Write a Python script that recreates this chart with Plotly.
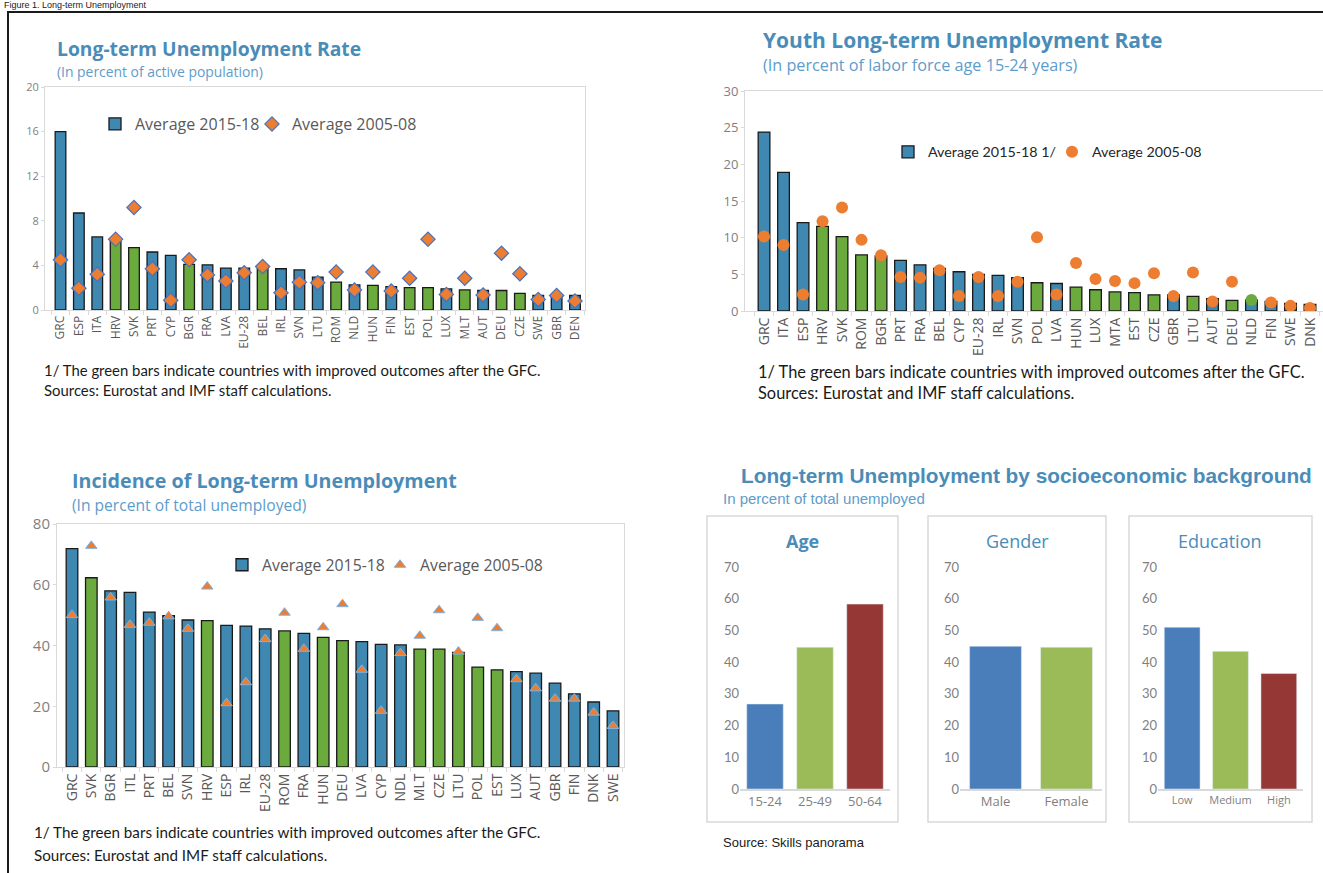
import plotly.graph_objects as go

W, H = 1323, 873
OFF = 0  # page margin is removed below, so pixel positions map 1:1

# ---------------- Data ----------------
# Panel 1: Long-term Unemployment Rate (percent of active population)
rate_countries = ["GRC", "ESP", "ITA", "HRV", "SVK", "PRT", "CYP", "BGR", "FRA", "LVA",
                  "EU-28", "BEL", "IRL", "SVN", "LTU", "ROM", "NLD", "HUN", "FIN", "EST",
                  "POL", "LUX", "MLT", "AUT", "DEU", "CZE", "SWE", "GBR", "DEN"]
rate_2015_18 = [16.0, 8.7, 6.55, 6.3, 5.6, 5.2, 4.9, 4.1, 4.05, 3.75,
                3.75, 3.8, 3.7, 3.6, 2.95, 2.5, 2.25, 2.2, 2.1, 2.0,
                2.0, 1.9, 1.8, 1.75, 1.75, 1.5, 1.3, 1.3, 1.3]
rate_2005_08 = [4.5, 1.95, 3.2, 6.35, 9.2, 3.7, 0.87, 4.5, 3.15, 2.6,
                3.35, 3.9, 1.55, 2.5, 2.45, 3.4, 1.8, 3.4, 1.7, 2.85,
                6.35, 1.4, 2.85, 1.35, 5.1, 3.25, 0.95, 1.3, 0.8]
rate_improved = [0, 0, 0, 1, 1, 0, 0, 1, 0, 0,
                 0, 1, 0, 0, 0, 1, 0, 1, 0, 1,
                 1, 0, 1, 0, 1, 1, 0, 0, 0]

# Panel 2: Youth Long-term Unemployment Rate (percent of labor force age 15-24)
youth_countries = ["GRC", "ITA", "ESP", "HRV", "SVK", "ROM", "BGR", "PRT", "FRA", "BEL",
                   "CYP", "EU-28", "IRL", "SVN", "POL", "LVA", "HUN", "LUX", "MTA", "EST",
                   "CZE", "GBR", "LTU", "AUT", "DEU", "NLD", "FIN", "SWE", "DNK"]
youth_2015_18 = [24.4, 18.9, 12.05, 11.55, 10.15, 7.65, 7.5, 6.9, 6.3, 5.8,
                 5.35, 5.0, 4.85, 4.55, 3.85, 3.75, 3.25, 2.9, 2.6, 2.5,
                 2.2, 2.2, 2.0, 1.7, 1.45, 1.5, 1.3, 1.05, 0.9]
youth_2005_08 = [10.15, 9.0, 2.25, 12.25, 14.1, 9.7, 7.6, 4.65, 4.55, 5.55,
                 2.05, 4.65, 2.05, 4.0, 10.05, 2.25, 6.55, 4.35, 4.1, 3.8,
                 5.15, 2.05, 5.25, 1.3, 4.0, 1.5, 1.15, 0.7, 0.4]
youth_improved = [0, 0, 0, 1, 1, 1, 1, 0, 0, 0,
                  0, 0, 0, 0, 1, 0, 1, 1, 1, 1,
                  1, 0, 1, 0, 1, 0, 0, 0, 0]
youth_dot_highlight = ["NLD"]

# Panel 3: Incidence of Long-term Unemployment (percent of total unemployed)
inc_countries = ["GRC", "SVK", "BGR", "ITL", "PRT", "BEL", "SVN", "HRV", "ESP", "IRL",
                 "EU-28", "ROM", "FRA", "HUN", "DEU", "LVA", "CYP", "NDL", "MLT", "CZE",
                 "LTU", "POL", "EST", "LUX", "AUT", "GBR", "FIN", "DNK", "SWE"]
inc_2015_18 = [71.9, 62.3, 58.0, 57.5, 51.0, 49.8, 48.4, 48.2, 46.6, 46.4,
               45.5, 44.8, 44.0, 42.7, 41.6, 41.3, 40.4, 40.2, 38.8, 38.8,
               37.7, 32.9, 32.0, 31.4, 30.9, 27.6, 24.1, 21.4, 18.5]
inc_2005_08 = [50.0, 72.8, 55.8, 46.8, 47.5, 49.6, 45.5, 59.4, 21.0, 27.9,
               42.1, 50.8, 38.9, 46.0, 53.6, 32.0, 18.5, 37.5, 43.2, 51.6,
               38.0, 49.1, 45.7, 28.9, 25.9, 22.5, 22.5, 17.9, 13.5]
inc_improved = [0, 1, 0, 0, 0, 0, 0, 1, 0, 0,
                0, 1, 0, 1, 1, 0, 0, 0, 1, 1,
                1, 1, 1, 0, 0, 0, 0, 0, 0]

# Panel 4: by socioeconomic background
age_groups = ["15-24", "25-49", "50-64"]
age_values = [26.8, 44.7, 58.3]
gender_groups = ["Male", "Female"]
gender_values = [45.0, 44.7]
edu_levels = ["Low", "Medium", "High"]
edu_values = [51.0, 43.4, 36.4]

# ---------------- Styles ----------------
BLUE = "#3F88B2"
GREEN = "#6BAB3E"
ORANGE = "#ED7D31"
DIAMOND_EDGE = "#4472C4"
TITLE_C = "#4A8CB8"
SUB_C = "#5D9CCB"
GREY_T = "#7F7F7F"
BOXLINE = "#D9D9D9"
SB_BLUE, SB_GREEN, SB_RED = "#4A7EBB", "#9BBB59", "#953735"
FONT_T = "Open Sans"
FONT_B = "Lato"


def fx(p):
    return (p - OFF) / W


def fy(p):
    return 1 - (p - OFF) / H


def cat_range(n, c0, c_last, left, right):
    s = (c_last - c0) / (n - 1)
    return [-(c0 - left) / s, (n - 1) + (right - c_last) / s]


fig = go.Figure()

# ---- Panel 1 ----
fig.add_trace(go.Bar(
    x=rate_countries, y=rate_2015_18, name="Average 2015-18",
    marker=dict(color=[GREEN if g else BLUE for g in rate_improved],
                line=dict(color="#1a1a1a", width=1.3)),
    width=0.58, xaxis="x", yaxis="y", legend="legend"))
fig.add_trace(go.Scatter(
    x=rate_countries, y=rate_2005_08, name="Average 2005-08", mode="markers",
    marker=dict(symbol="diamond", size=11, color=ORANGE,
                line=dict(color=DIAMOND_EDGE, width=1.2)),
    xaxis="x", yaxis="y", legend="legend4"))

# ---- Panel 2 ----
fig.add_trace(go.Bar(
    x=youth_countries, y=youth_2015_18, name="Average 2015-18 1/",
    marker=dict(color=[GREEN if g else BLUE for g in youth_improved],
                line=dict(color="#1a1a1a", width=1.3)),
    width=0.6, xaxis="x2", yaxis="y2", legend="legend2"))
fig.add_trace(go.Scatter(
    x=youth_countries, y=youth_2005_08, name="Average 2005-08", mode="markers",
    marker=dict(symbol="circle", size=12,
                color=[GREEN if c in youth_dot_highlight else ORANGE for c in youth_countries]),
    xaxis="x2", yaxis="y2", legend="legend5"))

# ---- Panel 3 ----
fig.add_trace(go.Bar(
    x=inc_countries, y=inc_2015_18, name="Average 2015-18",
    marker=dict(color=[GREEN if g else BLUE for g in inc_improved],
                line=dict(color="#1a1a1a", width=1.3)),
    width=0.6, xaxis="x3", yaxis="y3", legend="legend3"))
fig.add_trace(go.Scatter(
    x=inc_countries, y=inc_2005_08, name="Average 2005-08", mode="markers",
    marker=dict(symbol="triangle-up", size=10, color=ORANGE,
                line=dict(color="#7FB2E0", width=1)),
    xaxis="x3", yaxis="y3", legend="legend6"))

# ---- Panel 4 small charts ----
sb_colors = [SB_BLUE, SB_GREEN, SB_RED]
fig.add_trace(go.Bar(x=age_groups, y=age_values, marker_color=sb_colors[:3],
                     width=0.73, xaxis="x4", yaxis="y4", showlegend=False))
fig.add_trace(go.Bar(x=gender_groups, y=gender_values, marker_color=sb_colors[:2],
                     width=0.73, xaxis="x5", yaxis="y5", showlegend=False))
fig.add_trace(go.Bar(x=edu_levels, y=edu_values, marker_color=sb_colors[:3],
                     width=0.74, xaxis="x6", yaxis="y6", showlegend=False))


def main_x(domain, rng, size):
    return dict(domain=domain, range=rng, type="category", showline=True, mirror=True,
                linecolor=BOXLINE, linewidth=1, ticks="outside", tickson="boundaries",
                ticklen=4, tickcolor=BOXLINE, tickangle=-90, showgrid=False,
                automargin=False,
                tickfont=dict(family=FONT_T, size=size, color="#595959"), fixedrange=True)


def main_y(domain, rng, dtick, anchor, size):
    return dict(domain=domain, range=rng, dtick=dtick, showline=True, mirror=True,
                linecolor=BOXLINE, linewidth=1, ticks="outside", ticklen=3,
                tickcolor=BOXLINE, showgrid=False, zeroline=False, anchor=anchor,
                automargin=False,
                tickfont=dict(family=FONT_T, size=size, color=GREY_T), fixedrange=True)


def small_x(domain, size):
    return dict(domain=domain, type="category", showline=True, linecolor=BOXLINE,
                linewidth=1.5, ticks="", showgrid=False, automargin=False,
                tickfont=dict(family=FONT_T, size=size, color=GREY_T))


def small_y(domain, anchor):
    return dict(domain=domain, range=[0, 70], dtick=10, showline=False, showgrid=False,
                zeroline=False, ticks="", anchor=anchor, automargin=False,
                tickfont=dict(family=FONT_B, size=13, color=GREY_T))


def leg(x, y, size, color, family):
    return dict(x=fx(x), y=fy(y), xanchor="left", yanchor="top", orientation="h",
                font=dict(family=family, size=size, color=color),
                bgcolor="rgba(0,0,0,0)", itemwidth=30)


fig.update_layout(
    width=W, height=H, margin=dict(l=0, r=0, t=0, b=0, autoexpand=False),
    paper_bgcolor="white", plot_bgcolor="white", bargap=0.4,
    xaxis=main_x([fx(45), fx(585)], cat_range(29, 60.5, 575, 45, 585), 12),
    yaxis=main_y([fy(310), fy(87)], [0, 20], 4, "x", 11),
    xaxis2=dict(main_x([fx(745), fx(1323)], cat_range(29, 764, 1309, 745, 1322), 14), anchor="y2"),
    yaxis2=main_y([fy(311), fy(91)], [0, 30], 5, "x2", 13),
    xaxis3=dict(main_x([fx(57), fx(624)], cat_range(29, 72, 613, 57, 624), 14), anchor="y3"),
    yaxis3=main_y([fy(767), fy(524)], [0, 80], 20, "x3", 15),
    xaxis4=dict(small_x([fx(740), fx(890)], 13), anchor="y4"),
    yaxis4=small_y([fy(789), fy(567)], "x4"),
    xaxis5=dict(small_x([fx(960), fx(1102)], 13), anchor="y5"),
    yaxis5=small_y([fy(789), fy(567)], "x5"),
    xaxis6=dict(small_x([fx(1158), fx(1303)], 11), anchor="y6"),
    yaxis6=small_y([fy(789), fy(567)], "x6"),
    legend=leg(95, 107, 16, "#595959", FONT_T),
    legend4=leg(252, 107, 16, "#595959", FONT_T),
    legend2=leg(888, 136, 14.3, "#262626", FONT_B),
    legend5=leg(1052, 136, 14.3, "#262626", FONT_B),
    legend3=leg(222, 548, 15.8, "#595959", FONT_T),
    legend6=leg(380, 548, 15.8, "#595959", FONT_T),
)

# ---------------- Shapes ----------------
shapes = [
    # outer frame
    dict(type="rect", xref="paper", yref="paper", x0=fx(8), x1=fx(1340),
         y0=fy(890), y1=fy(12), line=dict(color="#1a1a1a", width=2)),
    # small panel boxes
    dict(type="rect", xref="paper", yref="paper", x0=fx(707), x1=fx(898),
         y0=fy(822), y1=fy(516), line=dict(color=BOXLINE, width=1.5)),
    dict(type="rect", xref="paper", yref="paper", x0=fx(928), x1=fx(1106),
         y0=fy(822), y1=fy(516), line=dict(color=BOXLINE, width=1.5)),
    dict(type="rect", xref="paper", yref="paper", x0=fx(1129), x1=fx(1312),
         y0=fy(822), y1=fy(516), line=dict(color=BOXLINE, width=1.5)),
]
fig.update_layout(shapes=shapes)

# ---------------- Annotations ----------------
ann = []


def text(x, y, s, size, color, family, bold=False, anchor="left"):
    ann.append(dict(xref="paper", yref="paper", x=fx(x), y=fy(y), xanchor=anchor,
                    yanchor="middle", showarrow=False,
                    text=f"<b>{s}</b>" if bold else s,
                    font=dict(size=size, color=color, family=family)))


# heading strip at very top (small so it stays fully visible above the frame)
text(2, 5.5, "Figure 1. Long-term Unemployment", 9, "#1a1a1a", "Liberation Sans")

# Panel 1
text(55, 48, "Long-term Unemployment Rate", 19.3, TITLE_C, FONT_T, bold=True)
text(55, 71, "(In percent of active population)", 13.9, SUB_C, FONT_T)
text(42, 370, "1/ The green bars indicate countries with improved outcomes after the GFC.", 14.9, "#1a1a1a", FONT_B)
text(42, 390, "Sources: Eurostat and IMF staff calculations.", 14.9, "#1a1a1a", FONT_B)

# Panel 2
text(761, 40, "Youth Long-term Unemployment Rate", 21, TITLE_C, FONT_T, bold=True)
text(761, 65, "(In percent of labor force age 15-24 years)", 16.2, SUB_C, FONT_T)
text(756, 371, "1/ The green bars indicate countries with improved outcomes after the GFC.", 16.4, "#1a1a1a", FONT_B)
text(756, 393, "Sources: Eurostat and IMF staff calculations.", 16.4, "#1a1a1a", FONT_B)

# Panel 3
text(70, 480, "Incidence of Long-term Unemployment", 19.7, TITLE_C, FONT_T, bold=True)
text(70, 505, "(In percent of total unemployed)", 15.6, SUB_C, FONT_T)
text(32, 832, "1/ The green bars indicate countries with improved outcomes after the GFC.", 15.2, "#1a1a1a", FONT_B)
text(32, 855, "Sources: Eurostat and IMF staff calculations.", 15.2, "#1a1a1a", FONT_B)

# Panel 4
text(739, 476, "Long-term Unemployment by socioeconomic background", 20.8, TITLE_C, "Liberation Sans", bold=True)
text(721, 498, "In percent of total unemployed", 15, SUB_C, "Liberation Sans")
text(802, 541, "Age", 18, TITLE_C, FONT_T, bold=True, anchor="center")
text(1017, 541, "Gender", 18, TITLE_C, FONT_T, anchor="center")
text(1220, 541, "Education", 18, TITLE_C, FONT_T, anchor="center")
text(721, 842, "Source: Skills panorama", 13, "#1a1a1a", "Liberation Sans")

fig.update_layout(annotations=ann)

fig.write_html("out.html",
               config={"displayModeBar": False},
               post_script="document.body.style.margin='0px';document.body.style.overflow='hidden';")
